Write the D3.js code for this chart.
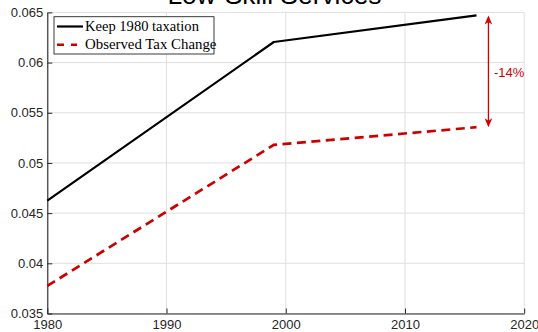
<!DOCTYPE html>
<html><head><meta charset="utf-8">
<script src="https://cdn.jsdelivr.net/npm/d3@7"></script>
<style>html,body{margin:0;padding:0;background:#fff;}svg{display:block;}</style>
</head><body>
<svg id="chart" width="538" height="332"></svg>
<script>
const years = [1980, 1999, 2016];
const keep1980 = [0.04624, 0.06205, 0.06470];
const observed = [0.03775, 0.05180, 0.05356];
const seriesNames = ["Keep 1980 taxation", "Observed Tax Change"];
const xTicks = [1980, 1990, 2000, 2010, 2020];
const yTicks = [0.035, 0.04, 0.045, 0.05, 0.055, 0.06, 0.065];
const yTickLabels = ["0.035", "0.04", "0.045", "0.05", "0.055", "0.06", "0.065"];
const title = "Low-Skill Services";
const changeLabel = "-14%";

const svg = d3.select("#chart");
const x = d3.scaleLinear().domain([1980, 2020]).range([47.3, 524.2]);
const y = d3.scaleLinear().domain([0.035, 0.065]).range([313.5, 12.4]);
const axisCol = "#262626", gridCol = "#dfdfdf", red = "#cc0000";

// grid
svg.append("g").selectAll("line").data(xTicks).join("line")
  .attr("x1", d => x(d)).attr("x2", d => x(d)).attr("y1", y(0.065)).attr("y2", y(0.035))
  .attr("stroke", gridCol).attr("stroke-width", 1);
svg.append("g").selectAll("line").data(yTicks).join("line")
  .attr("x1", x(1980)).attr("x2", x(2020)).attr("y1", d => y(d)).attr("y2", d => y(d))
  .attr("stroke", gridCol).attr("stroke-width", 1);

// axes
const xAxis = d3.axisBottom(x).tickValues(xTicks).tickFormat(d3.format("d")).tickSizeInner(-5).tickSizeOuter(0).tickPadding(6.5);
const gx = svg.append("g").attr("transform", `translate(0,${y(0.035)})`).call(xAxis);
const yAxis = d3.axisLeft(y).tickValues(yTicks).tickFormat((d, i) => yTickLabels[i]).tickSizeInner(-5).tickSizeOuter(0).tickPadding(4);
const gy = svg.append("g").attr("transform", `translate(${x(1980)},0)`).call(yAxis);
[gx, gy].forEach(g => {
  g.select(".domain").attr("stroke", axisCol).attr("stroke-width", 1.1);
  g.selectAll(".tick line").attr("stroke", axisCol).attr("stroke-width", 1);
  g.selectAll(".tick text").attr("fill", axisCol).attr("font-family", "Liberation Sans, Arial, sans-serif").attr("font-size", 13);
});

// lines
const line = d3.line().x((d, i) => x(years[i])).y(d => y(d));
svg.append("path").datum(keep1980).attr("d", line).attr("fill", "none")
  .attr("stroke", "#000").attr("stroke-width", 2.2).attr("stroke-linejoin", "round");
svg.append("path").datum(observed).attr("d", line).attr("fill", "none")
  .attr("stroke", red).attr("stroke-width", 2.7).attr("stroke-dasharray", "9,5.5");

// arrow
const ax = x(2017.0);
const yTop = y(keep1980[2]), yBot = y(observed[2]);
svg.append("line").attr("x1", ax).attr("x2", ax).attr("y1", yTop + 6).attr("y2", yBot - 6)
  .attr("stroke", red).attr("stroke-width", 1.3);
svg.append("path").attr("d", `M${ax},${yTop} L${ax-3.8},${yTop+9} L${ax},${yTop+6.5} L${ax+3.8},${yTop+9} Z`).attr("fill", red);
svg.append("path").attr("d", `M${ax},${yBot} L${ax-3.8},${yBot-9} L${ax},${yBot-6.5} L${ax+3.8},${yBot-9} Z`).attr("fill", red);
svg.append("text").attr("x", ax + 5.5).attr("y", (yTop + yBot) / 2 + 2).attr("dominant-baseline", "middle")
  .attr("fill", red).attr("font-family", "Liberation Sans, Arial, sans-serif").attr("font-size", 13).text(changeLabel);

// title
svg.append("text").attr("x", 274.5).attr("y", 4).attr("text-anchor", "middle")
  .attr("font-family", "Liberation Sans, Arial, sans-serif").attr("font-size", 26.4).attr("fill", "#000").text(title);

// legend
const lg = svg.append("g");
lg.append("rect").attr("x", 54).attr("y", 16.7).attr("width", 160).attr("height", 37.3)
  .attr("fill", "#fff").attr("stroke", axisCol).attr("stroke-width", 0.9);
lg.append("line").attr("x1", 57).attr("x2", 83).attr("y1", 26.5).attr("y2", 26.5).attr("stroke", "#000").attr("stroke-width", 2.2);
lg.append("line").attr("x1", 57).attr("x2", 83).attr("y1", 44.8).attr("y2", 44.8).attr("stroke", red).attr("stroke-width", 2.6).attr("stroke-dasharray", "7,7,6");
const targets = [114, 131.5];
seriesNames.forEach((n, i) => {
  const t = lg.append("text").attr("x", 85).attr("y", [31, 49.3][i])
    .attr("font-family", "Liberation Serif, Times New Roman, serif").attr("font-size", 13).attr("fill", "#000").text(n);
  const w = t.node().getComputedTextLength();
  t.attr("font-size", 13 * targets[i] / w);
});
</script>
</body></html>
